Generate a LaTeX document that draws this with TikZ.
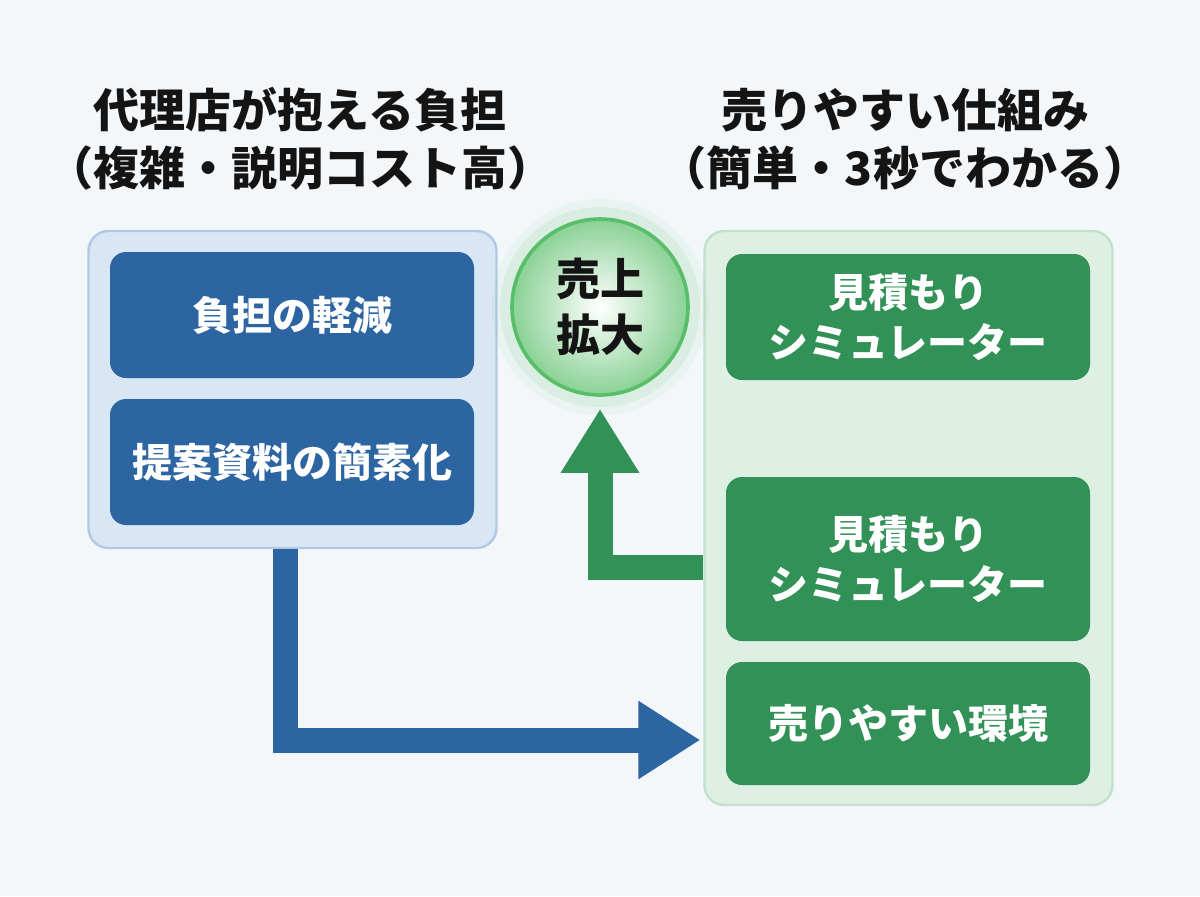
\documentclass[tikz,border=0pt]{standalone}
\usepackage{fontspec}
\setmainfont{Noto Sans CJK JP}
\usepackage{xcolor}
\definecolor{paper}{RGB}{243,247,250}
\definecolor{ink}{RGB}{20,20,20}
\definecolor{sea}{RGB}{44,101,161}
\definecolor{seapale}{RGB}{217,230,244}
\definecolor{searim}{RGB}{178,201,228}
\definecolor{leaf}{RGB}{49,145,86}
\definecolor{leafpale}{RGB}{222,240,228}
\definecolor{leafrim}{RGB}{194,224,203}
\definecolor{lime}{RGB}{88,190,104}
\usepackage{tikz}
\usetikzlibrary{arrows.meta,positioning,calc}
\tikzset{
  %% Titles and panels
  heading/.style={align=center, text=ink,
    font=\fontsize{23pt}{29pt}\selectfont\bfseries},
  panel/.style={rounded corners=10pt, line width=1.2pt, minimum width=204pt},
  %% Boxes inside the panels
  card/.style={rounded corners=8pt, text=white, align=center,
    minimum width=182pt, minimum height=63pt,
    font=\fontsize{20pt}{25pt}\selectfont\bfseries},
  bluecard/.style={card, fill=sea},
  greencard/.style={card, fill=leaf},
  %% Block arrows
  bluearrow/.style={draw=sea, line width=12.5pt,
    -{Triangle[length=31pt,width=37pt]}},
  greenarrow/.style={draw=leaf, line width=12.5pt,
    -{Triangle[length=32pt,width=37pt]}},
}

\begin{document}
\begin{tikzpicture}[x=0.5pt,y=-0.5pt]
\fill[paper] (0,0) rectangle (1200,896);
\useasboundingbox (0,0) rectangle (1200,896);

\node[heading] (lhead) at (300,139) {代理店が抱える負担\\（複雑・説明コスト高）};
\node[heading] (rhead) at (905,139) {売りやすい仕組み\\（簡単・3秒でわかる）};

%% left panel
\node[panel, fill=seapale, draw=searim, minimum height=158.5pt] (lpanel) at (292.5,389.5) {};
\node[bluecard] (ease) at (292,315) {負担の軽減};
\node[bluecard] (slim) at (292,462) {提案資料の簡素化};

%% right panel
\node[panel, fill=leafpale, draw=leafrim, minimum height=287pt] (rpanel) at (908.5,518) {};
\node[greencard] (simA) at (908,317) {見積もり\\シミュレーター};
\node[greencard, minimum height=82pt] (simB) at (908,559) {見積もり\\シミュレーター};
\node[greencard, minimum height=61.5pt] (env) at (908,723.5) {売りやすい環境};

%% sales circle with glow
\coordinate (hub) at (600,307);
\fill[lime, opacity=0.06] (hub) circle (54pt);
\fill[lime, opacity=0.10] (hub) circle (50pt);
\node[circle, minimum size=88pt, inner sep=0pt, draw=lime, line width=1.8pt,
      inner color=white, outer color=lime!70, align=center, text=ink,
      font=\fontsize{22pt}{28pt}\selectfont\bfseries] (sales) at (hub) {売上\\拡大};

%% arrows
\coordinate (bturn) at (285.5,740);
\coordinate (gturn) at (600,567.5);
\draw[bluearrow] (lpanel.south -| bturn) |- ([xshift=-1.5pt]rpanel.west |- bturn);
\draw[greenarrow] (rpanel.west |- gturn) -| ([yshift=-6pt]sales.south);
\end{tikzpicture}
\end{document}
